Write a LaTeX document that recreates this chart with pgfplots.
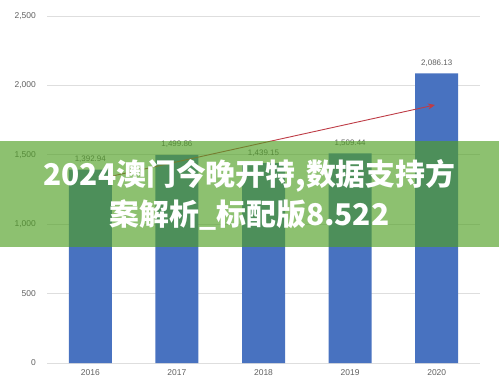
\documentclass[border=0pt]{standalone}
\usepackage{pgfplots}
\pgfplotsset{compat=1.18}
\usepackage{fontspec}
\setmainfont{Liberation Sans}
\newfontfamily\cjk{Noto Sans CJK SC}
\usetikzlibrary{arrows.meta}
\definecolor{barblue}{RGB}{72,114,192}
\definecolor{gridgray}{RGB}{222,222,222}
\definecolor{txtgray}{RGB}{96,96,96}
\definecolor{bandgreen}{RGB}{80,160,36}
\definecolor{arrowred}{RGB}{190,60,70}
\begin{document}
\begin{tikzpicture}[x=1bp,y=1bp]
\begin{axis}[
  at={(47bp,22bp)}, anchor=south west,
  scale only axis, width=433bp, height=347bp,
  xmin=-0.5, xmax=4.5, ymin=0, ymax=2500,
  axis line style={draw=none},
  major tick length=0pt,
  ymajorgrids, grid style={gridgray, line width=0.8bp},
  xtick={0,1,2,3,4},
  xticklabels={2016,2017,2018,2019,2020},
  ytick={0,500,1000,1500,2000,2500},
  /pgf/number format/assume math mode=true,
  /pgf/number format/1000 sep={,},
  tick label style={font=\fontsize{8.5}{10}\selectfont, text=txtgray, inner sep=0pt},
  every y tick label/.append style={xshift=-11bp},
  every x tick label/.append style={yshift=-6bp},
  clip=false,
]
\addplot[ybar, bar width=43bp, fill=barblue, draw=none,
  point meta=explicit symbolic,
  nodes near coords,
  every node near coord/.append style={font=\fontsize{8}{9}\selectfont, text=txtgray, inner sep=0pt, anchor=south, yshift=7bp}]
  coordinates {
  (0,1392.94) [1,392.94]
  (1,1499.86) [1,499.86]
  (2,1439.15) [1,439.15]
  (3,1509.44) [1,509.44]
  (4,2086.13) [2,086.13]
  };
\addplot[arrowred, line width=0.9bp, no marks, -{Stealth[length=7bp,width=6bp]}]
  coordinates {(0.204,1340) (3.98,1859)};
\end{axis}
\fill[bandgreen, opacity=0.65] (0,138) rectangle (499,244);
\node[text=white, font=\cjk\bfseries\fontsize{30}{40}\selectfont, align=center, inner sep=0pt] at (249.5,190) {2024澳门今晚开特,数据支持方\\案解析\_标配版8.522};
\pgfresetboundingbox
\useasboundingbox (0,0) rectangle (499,385);
\end{tikzpicture}
\end{document}
